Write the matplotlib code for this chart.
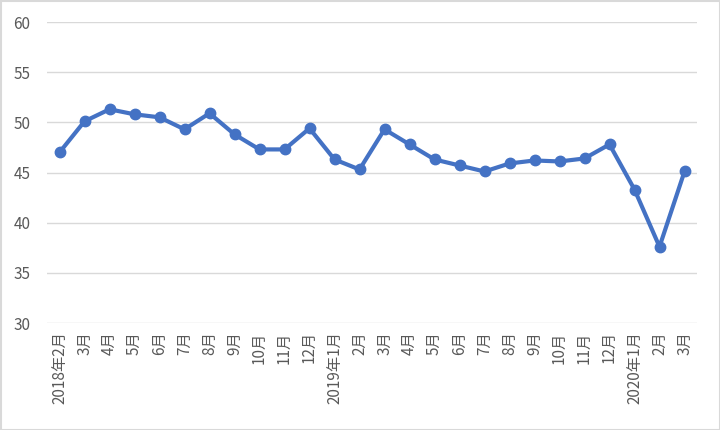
import matplotlib
matplotlib.use("Agg")
import matplotlib.pyplot as plt
from matplotlib.patches import Rectangle

plt.rcParams['font.family'] = ['Noto Sans CJK SC', 'DejaVu Sans']

labels = ["2018年2月", "3月", "4月", "5月", "6月", "7月", "8月", "9月", "10月", "11月", "12月",
          "2019年1月", "2月", "3月", "4月", "5月", "6月", "7月", "8月", "9月", "10月", "11月", "12月",
          "2020年1月", "2月", "3月"]
values = [47.0, 50.1, 51.3, 50.8, 50.5, 49.3, 50.9, 48.8, 47.3, 47.3, 49.4,
          46.3, 45.3, 49.3, 47.8, 46.3, 45.7, 45.1, 45.9, 46.2, 46.1, 46.4, 47.8,
          43.3, 37.6, 45.1]
yticks = [30, 35, 40, 45, 50, 55, 60]

fig = plt.figure(figsize=(7.2, 4.3), dpi=100)
ax = fig.add_axes([47/720, 1 - 323/430, 650/720, 301/430])

x = list(range(len(values)))
ax.plot(x, values, color="#4472C4", lw=3, marker="o", markersize=7.5, zorder=3)

ax.set_xlim(-0.5, len(values) - 0.5)
ax.set_ylim(30, 60)
ax.set_yticks(yticks)
ax.set_xticks(x)
ax.set_xticklabels(labels, rotation=90, va="top", ha="center")
ax.grid(axis="y", color="#D9D9D9", lw=1)
ax.set_axisbelow(True)
for s in ax.spines.values():
    s.set_visible(False)
ax.tick_params(axis="both", length=0, colors="#595959", labelsize=11)
ax.tick_params(axis="y", pad=12)
ax.tick_params(axis="x", pad=6)

fig.patches.append(Rectangle((0.5/720, 0.5/430), 719/720, 429/430, transform=fig.transFigure,
                             fill=False, edgecolor="#D9D9D9", lw=1.5))

fig.savefig("out.png", dpi=100)
